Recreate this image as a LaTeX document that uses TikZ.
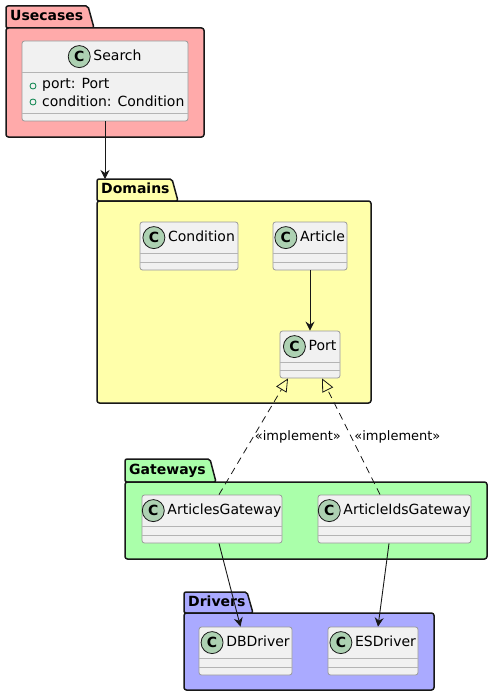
\documentclass[tikz,border=0pt]{standalone}
\usepackage{fontspec}
\setmainfont{DejaVu Sans}
\usetikzlibrary{arrows.meta}
\definecolor{usecasecol}{HTML}{FFAAAA}
\definecolor{domaincol}{HTML}{FFFFAA}
\definecolor{gatewaycol}{HTML}{AAFFAA}
\definecolor{drivercol}{HTML}{AAAAFF}
\definecolor{classfill}{HTML}{F1F1F1}
\definecolor{classline}{HTML}{999999}
\definecolor{sepcol}{HTML}{B4B4B4}
\definecolor{spotcol}{HTML}{ADD1B2}
\definecolor{inkcol}{HTML}{181818}
\definecolor{attrcol}{HTML}{038048}
\tikzset{
  pkgline/.style={draw=inkcol,line width=1.5pt,rounded corners=2pt},
  pkgbody/.style={draw=inkcol,line width=1.5pt,rounded corners=2.5pt,inner sep=0pt},
  pkglabel/.style={anchor=west,inner sep=0pt,text height=10pt,text depth=3pt,font=\fontsize{14}{16}\selectfont\bfseries},
  classbox/.style={draw=classline,fill=classfill,line width=0.8pt,rounded corners=2.5pt,inner sep=0pt},
  sepline/.style={draw=sepcol,line width=1.2pt},
  spot/.style={circle,draw=inkcol,fill=spotcol,line width=0.8pt,minimum size=22pt,inner sep=0pt,font=\fontsize{14}{16}\selectfont\bfseries},
  cname/.style={inner sep=0pt,text height=10pt,text depth=3pt,font=\fontsize{14}{16}\selectfont},
  attr/.style={anchor=west,inner sep=0pt,font=\fontsize{14}{16}\selectfont},
  stereo/.style={anchor=west,inner sep=0pt,font=\fontsize{13}{15}\selectfont},
  dep/.style={draw=inkcol,line width=0.9pt,-{Stealth[length=9pt,width=9pt,inset=3pt]}},
  impl/.style={draw=inkcol,line width=0.8pt,dash pattern=on 7pt off 5pt,-{Triangle[open,length=13pt,width=12pt]}}
}
% package: name, x1, y1, tab right, body top, x2, y2, label, colour
\newcommand{\umlpackage}[9]{%
  \draw[pkgline,fill=#9] (#2,#5) -- (#2,#3) -- (#4,#3) -- ({#4+6},#5) -- cycle;
  \node[pkgbody,fill=#9,minimum width={#6-#2},minimum height={#7-#5}] (#1) at ({(#2+#6)/2},{(#5+#7)/2}) {};
  \node[pkglabel] (#1L) at ({#2+4},{(#3+#5)/2}) {#8};
  \coordinate (#1tab) at (#2,#3);
}
% class: name, x1, y1, x2, y2, label
\newcommand{\umlclass}[6]{%
  \node[classbox,minimum width={#4-#2},minimum height={#5-#3}] (#1) at ({(#2+#4)/2},{(#3+#5)/2}) {};
  \draw[sepline] ([yshift=-32]#1.north west) -- ([yshift=-32]#1.north east);
  \draw[sepline] ([yshift=8]#1.south west) -- ([yshift=8]#1.south east);
  \node[cname] (#1N) at ([xshift=12.5,yshift=-16]#1.north) {#6};
  \node[spot] (#1C) at ([xshift=-14]#1N.west) {C};
}

\begin{document}
\begin{tikzpicture}[x=1pt,y=-1pt]
    \useasboundingbox (0,0) rectangle (494,698);
    % packages
    \umlpackage{usecases}{6}{6}{88}{28}{204}{137}{Usecases}{usecasecol}
    \umlpackage{domains}{97}{179}{172}{201}{371}{403}{Domains}{domaincol}
    \umlpackage{gateways}{125}{459}{210}{482}{487}{559}{Gateways}{gatewaycol}
    \umlpackage{drivers}{184}{592}{247}{613}{434}{690}{Drivers}{drivercol}
    % classes
    \umlclass{search}{22}{41}{188}{121}{Search}
    \umlclass{condition}{140}{222}{238}{270}{Condition}
    \umlclass{article}{273}{222}{347}{270}{Article}
    \umlclass{port}{280}{331}{340}{378}{Port}
    \umlclass{agw}{142}{495}{282}{543}{ArticlesGateway}
    \umlclass{aigw}{318}{495}{471}{543}{ArticleIdsGateway}
    \umlclass{dbdriver}{199}{627}{292}{675}{DBDriver}
    \umlclass{esdriver}{328}{627}{418}{675}{ESDriver}
    % attributes of Search
    \foreach \y/\txt in {85/port: Port,101/condition: Condition} {
        \draw[attrcol,line width=0.8pt] (33,\y+1) circle (3);
        \node[attr] at (42,\y) {\txt};
    }
    % connectors
    \draw[dep] (search.south) -- (search.south |- domainstab);
    \draw[dep] (article.south) -- (port.north);
    \draw[impl] ([xshift=7]agw.north) -- node[stereo,pos=0.5,xshift=1] {«implement»} ([xshift=-22]port.south);
    \draw[impl] ([xshift=-14.5]aigw.north) -- node[stereo,pos=0.5,xshift=3] {«implement»} ([xshift=12]port.south);
    \draw[dep] ([xshift=7]agw.south) -- ([xshift=-5]dbdriver.north);
    \draw[dep] ([xshift=-5.5]aigw.south) -- ([xshift=5]esdriver.north);
\end{tikzpicture}
\end{document}
